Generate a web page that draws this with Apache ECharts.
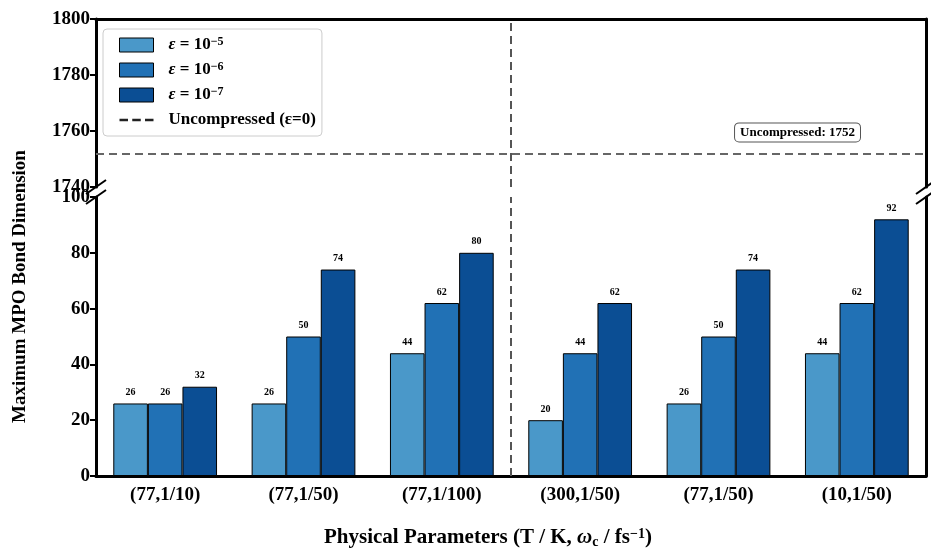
<!DOCTYPE html>
<html>
<head>
<meta charset="utf-8">
<script src="https://cdn.jsdelivr.net/npm/echarts@6/dist/echarts.min.js"></script>
<style>
  html, body { margin: 0; padding: 0; background: #fff; }
  #chart { width: 931px; height: 550px; }
</style>
</head>
<body>
<div id="chart"></div>
<script>
// data
const categories = ['(77,1/10)', '(77,1/50)', '(77,1/100)', '(300,1/50)', '(77,1/50)', '(10,1/50)'];
const eps5 = [26, 26, 44, 20, 26, 44];
const eps6 = [26, 50, 62, 44, 50, 62];
const eps7 = [32, 74, 80, 62, 74, 92];
const uncompressed = 1752;
const splitAt = 3; // dashed divider after the third group
const seriesNames = ['ε = 10^-5', 'ε = 10^-6', 'ε = 10^-7', 'Uncompressed (ε=0)'];
const colors = ['#4a98c9', '#2171b5', '#0b4e94'];

const font = 'Liberation Serif';
const myChart = echarts.init(document.getElementById('chart'));

function barSeries(name, data, color) {
  return {
    name: name,
    type: 'bar',
    xAxisIndex: 1,
    yAxisIndex: 1,
    data: data,
    barWidth: '25%',
    barGap: '0%',
    itemStyle: { color: color, borderColor: '#000', borderWidth: 1 },
    label: {
      show: true, position: 'top', distance: 6,
      fontFamily: font, fontWeight: 'bold', fontSize: 10, color: '#000'
    }
  };
}

function vlineSeries(xIdx, yIdx) {
  return {
    type: 'line', xAxisIndex: xIdx, yAxisIndex: yIdx, data: [],
    markLine: {
      silent: true, symbol: 'none',
      lineStyle: { color: '#555', type: [8, 5], width: 2 },
      label: { show: false },
      data: [{ xAxis: splitAt }]
    }
  };
}

const legendText = {
  'ε = 10^-5': '{e|ε} = 10{s|−5}',
  'ε = 10^-6': '{e|ε} = 10{s|−6}',
  'ε = 10^-7': '{e|ε} = 10{s|−7}',
  'Uncompressed (ε=0)': 'Uncompressed (ε=0)'
};

const tickFmt = function (v) { return String(v); };

const option = {
  animation: false,
  grid: [
    { left: 96, right: 5, top: 19, height: 168, outerBoundsMode: 'none' },
    { left: 96, right: 5, top: 197, height: 279, outerBoundsMode: 'none' }
  ],
  legend: {
    left: 103, top: 29,
    orient: 'vertical',
    itemWidth: 34, itemHeight: 14, itemGap: 7,
    backgroundColor: '#fff',
    borderColor: '#ccc', borderWidth: 1, borderRadius: 4,
    padding: [7, 6, 7, 16],
    textStyle: {
      fontFamily: font, fontWeight: 'bold', fontSize: 17, color: '#000', lineHeight: 18,
      padding: [0, 0, 0, 10],
      rich: {
        e: { fontFamily: font, fontStyle: 'italic', fontWeight: 'bold', fontSize: 17 },
        s: { fontFamily: font, fontWeight: 'bold', fontSize: 12, verticalAlign: 'top', padding: [0, 0, 8, 0] }
      }
    },
    formatter: function (name) { return legendText[name]; },
    data: [
      { name: seriesNames[0], icon: 'rect', itemStyle: { borderColor: '#000', borderWidth: 1 } },
      { name: seriesNames[1], icon: 'rect', itemStyle: { borderColor: '#000', borderWidth: 1 } },
      { name: seriesNames[2], icon: 'rect', itemStyle: { borderColor: '#000', borderWidth: 1 } },
      { name: seriesNames[3], icon: 'path://M0,6h8v2.4h-8z M12,6h8v2.4h-8z M24,6h8v2.4h-8z', itemStyle: { color: '#222' } }
    ]
  },
  xAxis: [
    {
      type: 'category', gridIndex: 0, data: categories,
      axisLine: { show: false }, axisTick: { show: false }, axisLabel: { show: false }
    },
    {
      type: 'category', gridIndex: 1, data: categories,
      axisLine: { lineStyle: { color: '#000', width: 3 } },
      axisTick: { alignWithLabel: true, length: 6, lineStyle: { color: '#000', width: 2 } },
      axisLabel: { fontFamily: font, fontWeight: 'bold', fontSize: 19, color: '#000', margin: 10 },
      name: 'Physical Parameters (T / K, {i|ω}{sub|c} / fs{sup|−1})',
      nameLocation: 'middle', nameGap: 51,
      nameTextStyle: {
        fontFamily: font, fontWeight: 'bold', fontSize: 21, color: '#000',
        padding: [0, 46, 0, 0],
        rich: {
          i: { fontFamily: font, fontStyle: 'italic', fontWeight: 'bold', fontSize: 21 },
          sub: { fontFamily: font, fontWeight: 'bold', fontSize: 14, verticalAlign: 'bottom', padding: [8, 0, 0, 0] },
          sup: { fontFamily: font, fontWeight: 'bold', fontSize: 14, verticalAlign: 'top', padding: [0, 0, 8, 0] }
        }
      }
    },
    {
      type: 'category', gridIndex: 0, data: categories, position: 'top',
      axisLine: { lineStyle: { color: '#000', width: 3 } },
      axisTick: { show: false }, axisLabel: { show: false }
    },
    // hidden numeric axes used to place the divider between groups
    { type: 'value', gridIndex: 0, min: 0, max: categories.length, show: false },
    { type: 'value', gridIndex: 1, min: 0, max: categories.length, show: false }
  ],
  yAxis: [
    {
      type: 'value', gridIndex: 0, min: 1740, max: 1800, interval: 20,
      axisLine: { show: true, lineStyle: { color: '#000', width: 3 } },
      axisTick: { show: true, length: 6, lineStyle: { color: '#000', width: 2 } },
      axisLabel: { fontFamily: font, fontWeight: 'bold', fontSize: 19, color: '#000', margin: 6, formatter: tickFmt },
      splitLine: { show: false }
    },
    {
      type: 'value', gridIndex: 1, min: 0, max: 100, interval: 20,
      axisLine: { show: true, lineStyle: { color: '#000', width: 3 } },
      axisTick: { show: true, length: 6, lineStyle: { color: '#000', width: 2 } },
      axisLabel: { fontFamily: font, fontWeight: 'bold', fontSize: 19, color: '#000', margin: 6, formatter: tickFmt },
      splitLine: { show: false },
      name: 'Maximum MPO Bond Dimension',
      nameLocation: 'middle', nameGap: 66, nameRotate: 90,
      nameTextStyle: { fontFamily: font, fontWeight: 'bold', fontSize: 19, color: '#000', padding: [0, 0, 0, 100] }
    },
    {
      type: 'value', gridIndex: 0, min: 1740, max: 1800, position: 'right',
      axisLine: { show: true, lineStyle: { color: '#000', width: 3 } },
      axisTick: { show: false }, axisLabel: { show: false }, splitLine: { show: false }
    },
    {
      type: 'value', gridIndex: 1, min: 0, max: 100, position: 'right',
      axisLine: { show: true, lineStyle: { color: '#000', width: 3 } },
      axisTick: { show: false }, axisLabel: { show: false }, splitLine: { show: false }
    }
  ],
  series: [
    barSeries(seriesNames[0], eps5, colors[0]),
    barSeries(seriesNames[1], eps6, colors[1]),
    barSeries(seriesNames[2], eps7, colors[2]),
    {
      name: seriesNames[3],
      type: 'line',
      xAxisIndex: 0,
      yAxisIndex: 0,
      data: [],
      itemStyle: { color: '#222' },
      lineStyle: { color: '#222', type: 'dashed' },
      markLine: {
        silent: true, symbol: 'none',
        lineStyle: { color: '#666', type: [8, 5], width: 2 },
        data: [
          {
            yAxis: uncompressed,
            label: {
              show: true, position: 'insideEndTop', distance: [66, 12],
              formatter: 'Uncompressed: ' + uncompressed,
              fontFamily: font, fontWeight: 'bold', fontSize: 13, color: '#000',
              backgroundColor: '#fff', borderColor: '#555', borderWidth: 1,
              borderRadius: 4, padding: [3, 5, 2, 5]
            }
          }
        ]
      }
    },
    vlineSeries(3, 0),
    vlineSeries(4, 1)
  ],
  graphic: [
    // broken-axis marks
    { type: 'line', shape: { x1: 86, y1: 194, x2: 106, y2: 180 }, style: { stroke: '#000', lineWidth: 2 } },
    { type: 'line', shape: { x1: 86, y1: 204, x2: 106, y2: 190 }, style: { stroke: '#000', lineWidth: 2 } },
    { type: 'line', shape: { x1: 916, y1: 194, x2: 936, y2: 180 }, style: { stroke: '#000', lineWidth: 2 } },
    { type: 'line', shape: { x1: 916, y1: 204, x2: 936, y2: 190 }, style: { stroke: '#000', lineWidth: 2 } }
  ]
};

myChart.setOption(option);
</script>
</body>
</html>
